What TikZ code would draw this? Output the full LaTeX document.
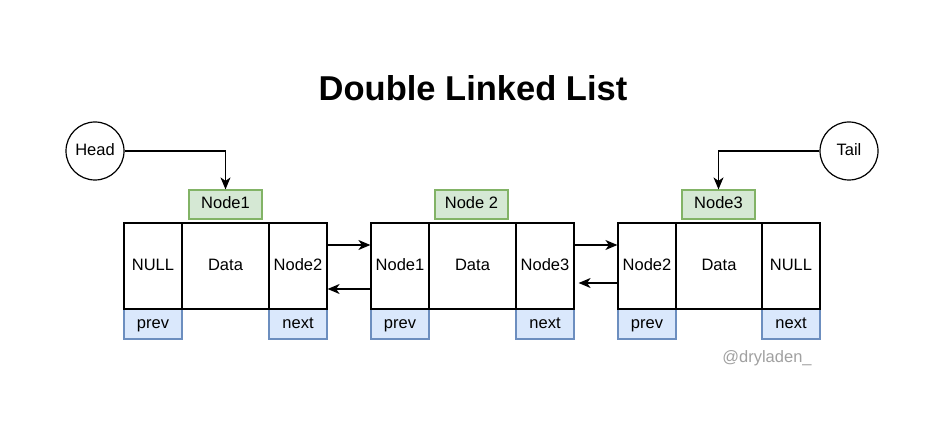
\documentclass[tikz,border=0pt]{standalone}
\usepackage{fontspec}
\setmainfont{Liberation Sans}
\usetikzlibrary{arrows.meta}
\definecolor{gfill}{HTML}{D5E8D4}
\definecolor{gdraw}{HTML}{82B366}
\definecolor{bfill}{HTML}{DAE8FC}
\definecolor{bdraw}{HTML}{6C8EBF}
\definecolor{wm}{HTML}{A0A0A0}
\begin{document}
\begin{tikzpicture}[x=1pt,y=-1pt,
  every node/.style={inner sep=0pt,font=\fontsize{16.5}{19}\selectfont,text height=12pt,text depth=3.5pt},
  cell/.style={draw=black,line width=1.2pt,minimum height=86pt},
  small/.style={cell,minimum width=58pt},
  wide/.style={cell,minimum width=87pt},
  tag/.style={draw=bdraw,fill=bfill,line width=1.2pt,minimum width=58pt,minimum height=30pt},
  lbl/.style={draw=gdraw,fill=gfill,line width=1.2pt,minimum width=73pt,minimum height=29pt},
  circ/.style={draw=black,circle,line width=1.2pt,minimum size=58pt},
  link/.style={draw=black,line width=1.2pt,-{Stealth[length=12pt,width=10pt,inset=3.5pt]}}]
\useasboundingbox (0,0) rectangle (944,435);
\node[font=\fontsize{34.5}{40}\selectfont\bfseries,text height=25pt,text depth=7pt] (title) at (473,92) {Double Linked List};
% group 1
\node[tag] (p1) at (153,324) {prev};
\node[tag] (x1) at (298,324) {next};
\node[small] (a1) at (153,266) {NULL};
\node[wide] (b1) at (225.5,266) {Data};
\node[small] (c1) at (298,266) {Node2};
\node[lbl] (l1) at (225.5,204.5) {Node1};
% group 2
\node[tag] (p2) at (400,324) {prev};
\node[tag] (x2) at (545,324) {next};
\node[small] (a2) at (400,266) {Node1};
\node[wide] (b2) at (472.5,266) {Data};
\node[small] (c2) at (545,266) {Node3};
\node[lbl] (l2) at (471.5,204.5) {Node 2};
% group 3
\node[tag] (p3) at (647,324) {prev};
\node[tag] (x3) at (791,324) {next};
\node[small] (a3) at (647,266) {Node2};
\node[wide,minimum width=86pt] (b3) at (719,266) {Data};
\node[small] (c3) at (791,266) {NULL};
\node[lbl] (l3) at (718.5,204.5) {Node3};
% head / tail
\node[circ] (head) at (95,151) {Head};
\node[circ] (tail) at (849,151) {Tail};
\draw[link] (head.east) -| (l1.north);
\draw[link] (tail.west) -| (l3.north);
% links
\draw[link] ([yshift=21pt]c1.east) -- ([yshift=21pt]a2.west);
\draw[link] ([yshift=-23pt]a2.west) -- ([yshift=-23pt]c1.east);
\draw[link] ([yshift=21pt]c2.east) -- ([yshift=21pt]a3.west);
\draw[link] ([yshift=-17pt]a3.west) -- ([xshift=4pt,yshift=-17pt]c2.east);
\node[text=wm] (mark) at (767,358) {@dryladen\_};
\end{tikzpicture}
\end{document}
